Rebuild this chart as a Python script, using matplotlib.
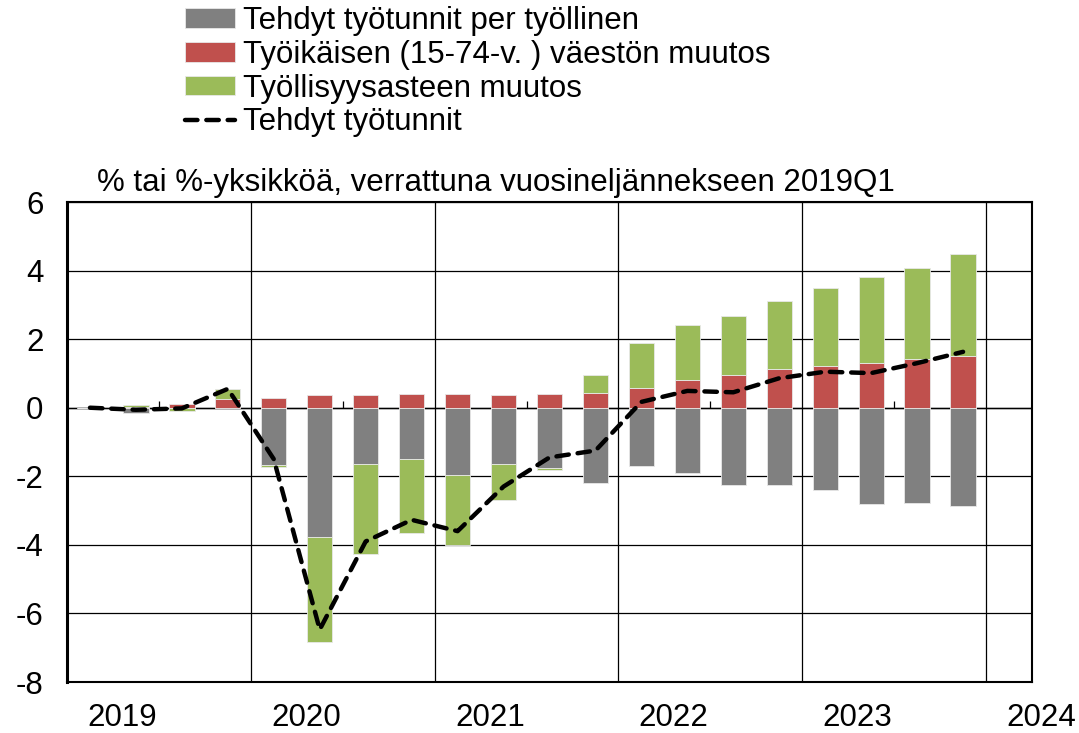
import numpy as np
import matplotlib
matplotlib.use("Agg")
from matplotlib import pyplot as plt
from matplotlib.transforms import blended_transform_factory

plt.rcParams['font.family'] = ['Liberation Sans', 'DejaVu Sans']
plt.rcParams['axes.unicode_minus'] = False

quarters = ["2019Q1", "2019Q2", "2019Q3", "2019Q4",
            "2020Q1", "2020Q2", "2020Q3", "2020Q4",
            "2021Q1", "2021Q2", "2021Q3", "2021Q4",
            "2022Q1", "2022Q2", "2022Q3", "2022Q4",
            "2023Q1", "2023Q2", "2023Q3", "2023Q4"]
hours_per_employed = [0, -0.15, -0.01, 0, -1.67, -3.76, -1.65, -1.51, -1.97, -1.63,
                      -1.75, -2.19, -1.70, -1.90, -2.24, -2.25, -2.41, -2.80, -2.77, -2.86]
population_change = [0, 0.02, 0.10, 0.25, 0.27, 0.37, 0.38, 0.39, 0.39, 0.37,
                     0.40, 0.42, 0.57, 0.80, 0.95, 1.13, 1.23, 1.31, 1.41, 1.51]
employment_rate = [0, 0.07, -0.09, 0.29, -0.05, -3.08, -2.62, -2.13, -2.03, -1.07,
                   -0.08, 0.52, 1.32, 1.60, 1.72, 1.97, 2.25, 2.49, 2.66, 2.96]
hours_total = [0, -0.06, -0.02, 0.55, -1.50, -6.47, -3.90, -3.27, -3.60, -2.30,
               -1.45, -1.25, 0.17, 0.49, 0.45, 0.86, 1.05, 1.01, 1.30, 1.63]
years = ["2019", "2020", "2021", "2022", "2023", "2024"]

labels = ["Tehdyt työtunnit per työllinen",
          "Työikäisen (15-74-v. ) väestön muutos",
          "Työllisyysasteen muutos",
          "Tehdyt työtunnit"]
colors = ["#808080", "#C0504D", "#9BBB59"]
fs = 22.5

fig = plt.figure(figsize=(10.79, 7.33), dpi=100)
ax = fig.add_axes([67/1079, 1-682/733, (1032-67)/1079, 480/733])

x = np.arange(len(quarters))
pos_base = np.zeros(len(x))
neg_base = np.zeros(len(x))
handles = []
for vals, col, lab in zip([hours_per_employed, population_change, employment_rate], colors, labels[:3]):
    v = np.array(vals)
    base = np.where(v >= 0, pos_base, neg_base)
    b = ax.bar(x, v, 0.55, bottom=base, color=col, edgecolor="#e8e8e8", linewidth=0.6,
               label=lab, zorder=3)
    handles.append(b)
    pos_base = pos_base + np.where(v > 0, v, 0)
    neg_base = neg_base + np.where(v < 0, v, 0)

ln, = ax.plot(x, hours_total, color="black", lw=3.2, dashes=(2.8, 2.0),
              dash_capstyle="round", label=labels[3], zorder=4)
handles.append(ln)

ax.set_xlim(-0.5, 20.5)
ax.set_ylim(-8, 6)
ax.set_yticks(np.arange(-8, 7, 2))
ax.set_xticks(np.arange(-0.5, 20, 4))
ax.set_xticklabels([])
ax.tick_params(axis="both", length=0, labelsize=fs, pad=17)
ax.grid(True, color="black", lw=0.9, zorder=1)
ax.axhline(0, color="black", lw=1.0, zorder=2)
ax.vlines(np.arange(1.5, 20, 4), 0, 0.2, color="black", lw=0.9, zorder=2)
for s in ax.spines.values():
    s.set_linewidth(1.5)
ax.spines["left"].set_linewidth(2.2)

tr = blended_transform_factory(ax.transData, ax.transAxes)
for i, yr in enumerate(years):
    ax.text(-0.5 + 4*i + 1.2, -0.075, yr, transform=tr, ha="center", va="center",
            fontsize=fs, clip_on=False)

fig.text(97/1079, 1-183/733, "% tai %-yksikköä, verrattuna vuosineljännekseen 2019Q1",
         ha="left", va="center", fontsize=fs)

fig.legend(handles=handles, labels=labels, loc="upper left",
           bbox_to_anchor=(185/1079, 1-6/733), frameon=False, fontsize=fs,
           borderpad=0, borderaxespad=0, handlelength=1.6, handleheight=0.6,
           handletextpad=0.25, labelspacing=0.12)

fig.savefig("out.png", dpi=100)
